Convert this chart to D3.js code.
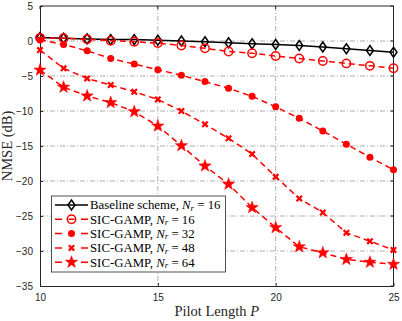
<!DOCTYPE html>
<html><head><meta charset="utf-8">
<script src="https://cdn.jsdelivr.net/npm/d3@7"></script>
<style>body{margin:0;background:#fff}svg{display:block}</style>
</head><body>
<svg id="c" width="402" height="321"></svg>
<script>
const pilot = [10,11,12,13,14,15,16,17,18,19,20,21,22,23,24,25];
const baseline16 = [0.5,0.4,0.3,0.2,0.2,0.1,0.0,-0.1,-0.25,-0.4,-0.5,-0.65,-0.85,-1.1,-1.35,-1.6];
const sic16 = [0.45,0.4,0.25,0.05,-0.1,-0.3,-0.65,-1.05,-1.5,-1.75,-2.15,-2.5,-2.85,-3.2,-3.55,-3.9];
const sic32 = [0.15,-0.5,-1.4,-2.5,-3.3,-4.1,-4.9,-5.8,-6.75,-7.9,-9.4,-11.05,-12.85,-14.75,-16.6,-18.4];
const sic48 = [-1.3,-3.9,-5.35,-6.3,-7.25,-8.35,-10.0,-11.9,-13.9,-16.15,-19.4,-22.5,-24.5,-27.4,-28.6,-29.85];
const sic64 = [-4.15,-6.6,-7.85,-8.8,-10.1,-12.15,-14.95,-17.85,-20.45,-23.8,-26.65,-29.4,-30.25,-31.2,-31.6,-31.9];
const seriesNames = ["Baseline scheme, ", "SIC-GAMP, ", "SIC-GAMP, ", "SIC-GAMP, ", "SIC-GAMP, "];
const seriesNr = ["16","16","32","48","64"];
const xTicks = [10,15,20,25];
const yTicks = [5,0,-5,-10,-15,-20,-25,-30,-35];

const svg = d3.select("#c");
const L=40, R=393.5, T=6, B=286;
const x = d3.scaleLinear().domain([10,25]).range([L,R]);
const y = d3.scaleLinear().domain([-35,5]).range([B,T]);

// grid
const grid = svg.append("g").attr("stroke","#9a9a9a").attr("stroke-width",0.8).attr("stroke-dasharray","5,2,1,2");
xTicks.slice(1,-1).forEach(t=>grid.append("line").attr("x1",x(t)).attr("x2",x(t)).attr("y1",T).attr("y2",B));
yTicks.slice(1,-1).forEach(t=>grid.append("line").attr("x1",L).attr("x2",R).attr("y1",y(t)).attr("y2",y(t)));

// axes
const ax = d3.axisBottom(x).tickValues(xTicks).tickSizeInner(-3).tickSizeOuter(0).tickPadding(8);
const gx = svg.append("g").attr("transform",`translate(0,${B})`).call(ax);
const ay = d3.axisLeft(y).tickValues(yTicks).tickSizeInner(-3).tickSizeOuter(0).tickPadding(7);
const gy = svg.append("g").attr("transform",`translate(${L},0)`).call(ay);
[gx,gy].forEach(g=>{g.selectAll("text").attr("font-family","Liberation Sans, Arial").attr("font-size",10).attr("fill","#262626");
 g.select(".domain").attr("stroke","#262626"); g.selectAll(".tick line").attr("stroke","#262626");});
gy.selectAll("text").attr("dy","0.35em");
// top/right box
svg.append("line").attr("x1",L).attr("x2",R).attr("y1",T).attr("y2",T).attr("stroke","#262626");
svg.append("line").attr("x1",R).attr("x2",R).attr("y1",T).attr("y2",B).attr("stroke","#262626");
xTicks.forEach(t=>svg.append("line").attr("x1",x(t)).attr("x2",x(t)).attr("y1",T).attr("y2",T+3).attr("stroke","#262626"));
yTicks.forEach(t=>svg.append("line").attr("x1",R).attr("x2",R-3).attr("y1",y(t)).attr("y2",y(t)).attr("stroke","#262626"));

// labels
svg.append("text").attr("x",(L+R)/2).attr("y",316).attr("text-anchor","middle")
 .attr("font-family","Liberation Serif, DejaVu Serif").attr("font-size",14.5).attr("fill","#262626")
 .html('Pilot Length <tspan font-style="italic">P</tspan>');
svg.append("text").attr("transform",`translate(12,${(T+B)/2}) rotate(-90)`).attr("text-anchor","middle")
 .attr("font-family","Liberation Serif, DejaVu Serif").attr("font-size",14.5).attr("fill","#262626").text("NMSE (dB)");

// markers
function star(r){const p=[];for(let i=0;i<10;i++){const a=-Math.PI/2+i*Math.PI/5;const rr=i%2?r*0.4:r;p.push([rr*Math.cos(a),rr*Math.sin(a)]);}return "M"+p.map(q=>q.join(",")).join("L")+"Z";}
const markers = [
 g=>g.append("path").attr("d","M0,-5L3.5,0L0,5L-3.5,0Z").attr("fill","none").attr("stroke","#000").attr("stroke-width",1.5),
 g=>g.append("circle").attr("r",4.2).attr("fill","none").attr("stroke","#f00").attr("stroke-width",1.5),
 g=>g.append("circle").attr("r",3.5).attr("fill","#f00"),
 g=>g.append("path").attr("d","M-2.7,-2.7L2.7,2.7M-2.7,2.7L2.7,-2.7").attr("stroke","#f00").attr("stroke-width",2.2),
 g=>g.append("path").attr("d",star(6.5)).attr("fill","#f00").attr("stroke","#f00").attr("stroke-width",0.5)
];
const data = [baseline16,sic16,sic32,sic48,sic64];
const colors = ["#000","#f00","#f00","#f00","#f00"];
const line = d3.line().x((d,i)=>x(pilot[i])).y(d=>y(d));
data.forEach((s,k)=>{
 svg.append("path").datum(s).attr("d",line).attr("fill","none").attr("stroke",colors[k]).attr("stroke-width",1.5)
  .attr("stroke-dasharray",k?"6,4":null);
 s.forEach((v,i)=>{const g=svg.append("g").attr("transform",`translate(${x(pilot[i])},${y(v)})`);markers[k](g);});
});

// legend
const lg = svg.append("g");
lg.append("rect").attr("x",51.5).attr("y",196).attr("width",174).attr("height",76).attr("fill","#fff").attr("stroke","#262626").attr("stroke-width",0.8);
seriesNames.forEach((n,k)=>{
 const yy = 205 + k*14.3;
 lg.append("line").attr("x1",55).attr("x2",88).attr("y1",yy).attr("y2",yy).attr("stroke",colors[k]).attr("stroke-width",1.5)
  .attr("stroke-dasharray",k?"7,19":null);
 const g = lg.append("g").attr("transform",`translate(71.5,${yy})`); markers[k](g);
 if(k===1) g.append("line").attr("x1",-3).attr("x2",3).attr("y1",0).attr("y2",0).attr("stroke","#f00").attr("stroke-width",1.5);
 lg.append("text").attr("x",90).attr("y",yy+4.3).attr("font-family","Liberation Serif, DejaVu Serif").attr("font-size",12.8).attr("fill","#000")
  .html(`${n}<tspan font-style="italic">N</tspan><tspan font-style="italic" font-size="9" dy="1.5">r</tspan><tspan dy="-1.5"> = ${seriesNr[k]}</tspan>`);
});
</script>
</body></html>
